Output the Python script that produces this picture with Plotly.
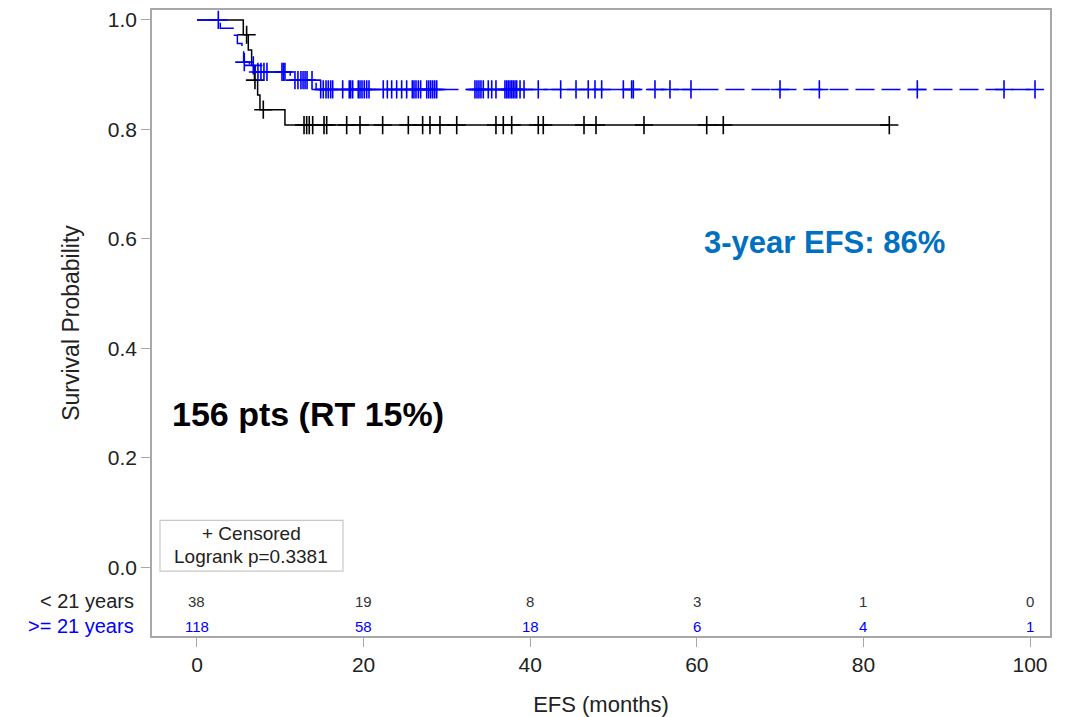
import plotly.graph_objects as go

# ---- data ----
# < 21 years (black) : step times and survival after each event
young_t = [0, 5.56, 6.16, 6.56, 6.9, 7.28, 7.56, 10.56]
young_s = [1.0, 0.973, 0.945, 0.917, 0.89, 0.863, 0.836, 0.808]
young_end = 83.11
young_cens = [5.96, 6.96, 7.96, 12.85, 13.17, 13.48, 13.89, 15.25, 15.57, 17.97, 19.57,
              22.29, 25.37, 27.09, 27.97, 29.17, 31.18, 35.89, 36.77, 37.78, 40.97,
              41.57, 46.46, 47.90, 53.66, 61.19, 63.18, 83.11]

# >= 21 years (blue)
old_t = [0, 2.8, 4.5, 4.85, 5.4, 5.6, 6.3, 7.0, 11.2, 14.3]
old_s = [1.0, 0.985, 0.972, 0.957, 0.942, 0.923, 0.917, 0.905, 0.89, 0.873]
old_end = 100.6
old_cens = [2.56, 5.68, 6.76, 7.32, 7.68, 8.04, 8.40, 10.2, 10.38, 10.56,
            11.76, 12.12, 12.48, 12.73, 12.97, 13.21, 13.81,
            14.85, 15.16, 15.49, 15.76, 16.05, 16.29, 17.49, 18.28, 18.45, 18.69,
            19.36, 19.57, 19.81, 20.08, 20.37, 20.65, 22.36, 22.85, 23.37, 23.97,
            24.57, 25.17, 25.85, 26.05, 26.29, 26.57, 26.85, 27.58, 27.82, 28.06,
            28.30, 28.54, 28.78, 33.37, 33.61, 33.85, 34.09, 34.37, 34.97, 35.38,
            35.89, 36.97, 37.18, 37.37, 37.58, 37.78, 37.97, 38.18, 38.38, 38.78,
            39.26, 40.97, 43.66, 45.50, 46.97, 47.78, 48.58, 51.18, 52.18, 52.38,
            54.98, 56.78, 59.30, 69.99, 74.71, 86.47, 96.88, 100.6]

risk_times = [0, 20, 40, 60, 80, 100]
risk_young = [38, 19, 8, 3, 1, 0]
risk_old = [118, 58, 18, 6, 4, 1]

x_ticks = [0, 20, 40, 60, 80, 100]
y_ticks = [0.0, 0.2, 0.4, 0.6, 0.8, 1.0]

BLACK = "#000000"
BLUE = "#0000ff"
GRAY = "#a8a8a8"
TXT = "#222222"
FONT = "Liberation Sans, Arial, sans-serif"


def lookup(ts, ss, t):
    v = ss[0]
    for ti, si in zip(ts, ss):
        if ti <= t:
            v = si
    return v


fig = go.Figure()

# black curve
fig.add_trace(go.Scatter(x=young_t + [young_end], y=young_s + [young_s[-1]],
                         mode="lines", line=dict(color=BLACK, width=1.5, shape="hv"),
                         hoverinfo="skip"))
fig.add_trace(go.Scatter(x=young_cens, y=[lookup(young_t, young_s, t) for t in young_cens],
                         mode="markers",
                         marker=dict(symbol="cross-thin", size=13,
                                     line=dict(color=BLACK, width=1.6))))
# blue curve (dashed)
fig.add_trace(go.Scatter(x=old_t + [old_end], y=old_s + [old_s[-1]],
                         mode="lines", line=dict(color=BLUE, width=1.5, shape="hv",
                                                 dash="19px,7px"),
                         hoverinfo="skip"))
fig.add_trace(go.Scatter(x=old_cens, y=[lookup(old_t, old_s, t) for t in old_cens],
                         mode="markers",
                         marker=dict(symbol="cross-thin", size=13,
                                     line=dict(color=BLUE, width=1.6))))

ann = []
row1_y, row2_y = -0.062, -0.1075
for t, a, b in zip(risk_times, risk_young, risk_old):
    ann.append(dict(x=t, y=row1_y, xref="x", yref="y", text=str(a), showarrow=False,
                    font=dict(family=FONT, size=15, color="#333333")))
    ann.append(dict(x=t, y=row2_y, xref="x", yref="y", text=str(b), showarrow=False,
                    font=dict(family=FONT, size=15, color=BLUE)))
ann.append(dict(x=-0.018, y=row1_y, xref="paper", yref="y", text="< 21 years",
                showarrow=False, xanchor="right", font=dict(family=FONT, size=20, color=TXT)))
ann.append(dict(x=-0.018, y=row2_y, xref="paper", yref="y", text=">= 21 years",
                showarrow=False, xanchor="right", font=dict(family=FONT, size=20, color=BLUE)))
ann.append(dict(x=6.5, y=0.062, xref="x", yref="y", text="+ Censored", showarrow=False,
                font=dict(family=FONT, size=19, color=TXT)))
ann.append(dict(x=6.5, y=0.020, xref="x", yref="y", text="Logrank p=0.3381", showarrow=False,
                font=dict(family=FONT, size=19, color=TXT)))
ann.append(dict(x=-3.24, y=0.2805, xref="x", yref="y", text="<b>156 pts (RT 15%)</b>",
                showarrow=False, xanchor="left",
                font=dict(family=FONT, size=34, color="#000000")))
ann.append(dict(x=60.6, y=0.594, xref="x", yref="y", text="<b>3-year EFS: 86%</b>",
                showarrow=False, xanchor="left",
                font=dict(family=FONT, size=31, color="#0070c0")))

shapes = [dict(type="rect", xref="x", yref="y", x0=-4.44, x1=17.53, y0=-0.0073, y1=0.0856,
               line=dict(color="#c8c8c8", width=1.2), fillcolor="rgba(0,0,0,0)")]

fig.update_layout(
    width=1061, height=709,
    margin=dict(l=144, r=19, t=0, b=81),
    paper_bgcolor="white", plot_bgcolor="white",
    showlegend=False,
    annotations=ann, shapes=shapes,
    font=dict(family=FONT, color=TXT),
    xaxis=dict(range=[-5.4, 102.4], tickvals=x_ticks, ticks="outside", ticklen=9,
               tickcolor=GRAY, tickwidth=1, showline=True, mirror=True, linecolor=GRAY,
               linewidth=1.5, showgrid=False, zeroline=False,
               tickfont=dict(family=FONT, size=21, color=TXT),
               title=dict(text="EFS (months)", font=dict(family=FONT, size=22, color=TXT),
                          standoff=22)),
    yaxis=dict(range=[-0.1257, 1.0182], tickvals=y_ticks, ticktext=[f"{v:.1f}" for v in y_ticks],
               ticks="outside", ticklen=9, tickcolor=GRAY, tickwidth=1, showline=True,
               mirror=True, linecolor=GRAY, linewidth=1.5, showgrid=False, zeroline=False,
               tickfont=dict(family=FONT, size=21, color=TXT),
               title=dict(text="Survival Probability",
                          font=dict(family=FONT, size=23, color=TXT), standoff=22)),
)

fig.write_html("out.html")
